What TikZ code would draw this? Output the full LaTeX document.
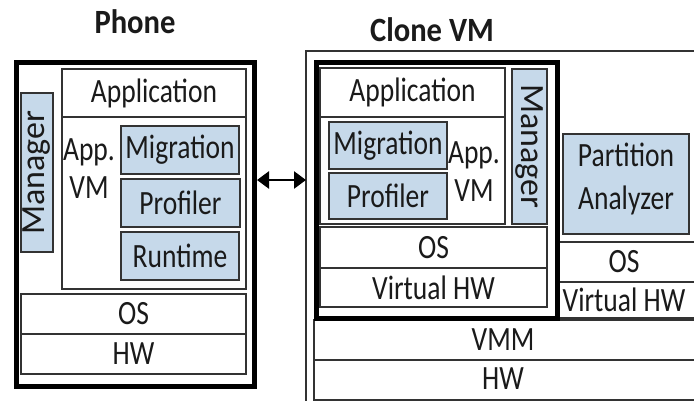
\documentclass[tikz,border=0pt]{standalone}
\usepackage{fontspec}
\setmainfont[FakeStretch=0.81]{Carlito}
\newfontfamily\titlefont[FakeStretch=0.9]{Carlito}
\newfontfamily\widefont{Carlito}
\usetikzlibrary{arrows.meta,calc}
\definecolor{boxblue}{HTML}{C6D9EA}
\definecolor{edge}{HTML}{333333}
\definecolor{ink}{HTML}{1A1A1A}
\begin{document}
\begin{tikzpicture}[x=1pt,y=-1pt,
  lay/.style={draw=edge, line width=1.6pt, fill=white, inner sep=0pt, outer sep=0pt,
    text=ink, font=\fontsize{34}{38}\selectfont, anchor=north west},
  blu/.style={lay, fill=boxblue},
  heavybox/.style={draw=black, line width=5pt, fill=white, inner sep=0pt, anchor=north west},
  titletext/.style={text=ink, font=\titlefont\bfseries\fontsize{34}{36}\selectfont},
  lbl/.style={text=ink, font=\fontsize{34}{38}\selectfont, inner sep=0pt, align=center},
  mgrtext/.style={text=ink, font=\widefont\fontsize{34}{38}\selectfont, inner sep=0pt},
  link/.style={line width=2.6pt, {Triangle[length=12pt,width=17pt]}-{Triangle[length=12pt,width=17pt]}}]
\clip (0,0) rectangle (694,400);
\fill[white] (0,0) rectangle (694,400);

% titles
\node[titletext] (tphone) at (135,22) {Phone};
\node[titletext] (tclone) at (432,30) {Clone VM};

% ---------- Phone ----------
\node[heavybox, minimum width=238, minimum height=324] (phone) at (14,60) {};
\node[blu, minimum width=32, minimum height=159] (pmgr) at (21,93) {};
\node[mgrtext, rotate=90] (pmgrt) at (pmgr.center) {Manager};
\node[lay, minimum width=184, minimum height=48] (papp) at (62,69) {Application};
\node[lay, minimum width=184, minimum height=172] (pvm) at (62,117) {};
\node[lbl] (pvmt) at (89,169) {App.\\VM};
\node[blu, minimum width=118, minimum height=48] (pmig) at (121,126) {Migration};
\node[blu, minimum width=119, minimum height=48] (pprof) at (121,179) {Profiler};
\node[blu, minimum width=118, minimum height=48] (prun) at (121,232) {Runtime};
\node[lay, minimum width=225, minimum height=40] (pos) at (21,294) {OS};
\node[lay, minimum width=225, minimum height=40] (phw) at (21,334) {HW};

% ---------- Clone side ----------
\node[lay, minimum width=420, minimum height=380] (couter) at (306,51) {};
\node[lay, minimum width=400, minimum height=40] (vmm) at (314,320) {};
\node[lbl] (vmmt) at (503,340) {VMM};
\node[lay, minimum width=400, minimum height=40] (chw) at (314,360) {};
\node[lbl] (chwt) at (503,379) {HW};
\node[lay, minimum width=150, minimum height=40] (ros) at (557,242) {};
\node[lbl] (rost) at (624,262) {OS};
\node[lay, minimum width=150, minimum height=36] (rvhw) at (557,282) {};
\node[lbl] (rvhwt) at (624,300) {Virtual HW};
\node[blu, minimum width=126, minimum height=100] (pa) at (563,134) {};
\node[lbl, font=\fontsize{34}{43}\selectfont] (pat) at (626,179) {Partition\\Analyzer};

\node[heavybox, minimum width=241, minimum height=256] (clone) at (314,60) {};
\node[lay, minimum width=185, minimum height=49] (capp) at (320,68) {Application};
\node[lay, minimum width=185, minimum height=107] (cvm) at (320,117) {};
\node[blu, minimum width=118, minimum height=47] (cmig) at (329,122) {Migration};
\node[blu, minimum width=118, minimum height=46] (cprof) at (329,173) {Profiler};
\node[lbl] (cvmt) at (474,172) {App.\\VM};
\node[blu, minimum width=35, minimum height=155] (cmgr) at (512,69) {};
\node[mgrtext, rotate=-90] (cmgrt) at (cmgr.center) {Manager};
\node[lay, minimum width=227, minimum height=41] (cos) at (320,227) {OS};
\node[lay, minimum width=227, minimum height=39] (cvhw) at (320,268) {Virtual HW};

% connector
\coordinate (ay) at (0,180);
\draw[link] (phone.east |- ay) -- (couter.west |- ay);
\end{tikzpicture}
\end{document}
